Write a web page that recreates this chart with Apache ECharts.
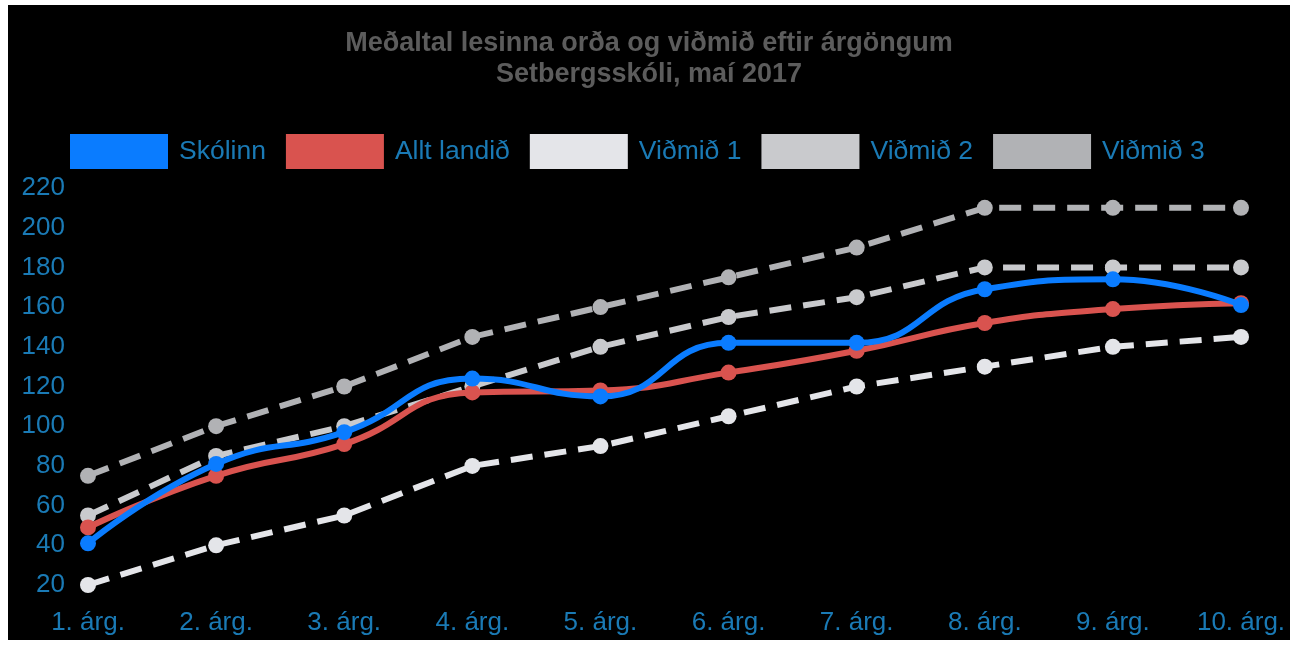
<!DOCTYPE html>
<html>
<head>
<meta charset="utf-8">
<script src="https://cdn.jsdelivr.net/npm/echarts@6/dist/echarts.min.js"></script>
<style>
  html, body { margin: 0; padding: 0; background: #ffffff; width: 1294px; height: 645px; overflow: hidden; }
  #chart { position: absolute; left: 8px; top: 5px; width: 1282px; height: 635px; background: #000000; }
</style>
</head>
<body>
<div id="chart"></div>
<script>
const categories = ['1. árg.', '2. árg.', '3. árg.', '4. árg.', '5. árg.', '6. árg.', '7. árg.', '8. árg.', '9. árg.', '10. árg.'];
const skolinn = [41, 81, 97, 124, 115, 142, 142, 169, 174, 161];
const alltLandid = [49, 75, 91, 117, 118, 127, 138, 152, 159, 162];
const vidmid1 = [20, 40, 55, 80, 90, 105, 120, 130, 140, 145];
const vidmid2 = [55, 85, 100, 120, 140, 155, 165, 180, 180, 180];
const vidmid3 = [75, 100, 120, 145, 160, 175, 190, 210, 210, 210];
const seriesNames = ['Skólinn', 'Allt landið', 'Viðmið 1', 'Viðmið 2', 'Viðmið 3'];
const titleLines = ['Meðaltal lesinna orða og viðmið eftir árgöngum', 'Setbergsskóli, maí 2017'];
const yTicks = { min: 20, max: 220, step: 20 };

const labelColor = '#1a7ab5';
const font = '"Liberation Sans", Arial, sans-serif';

const chart = echarts.init(document.getElementById('chart'));

function solid(name, data, color, z) {
  return {
    name: name, type: 'line', data: data, smooth: 0.5, z: z,
    symbol: 'circle', symbolSize: 16,
    lineStyle: { color: color, width: 6 },
    itemStyle: { color: color }
  };
}
function dashed(name, data, color, z) {
  return {
    name: name, type: 'line', data: data, smooth: false, z: z,
    symbol: 'circle', symbolSize: 16,
    lineStyle: { color: color, width: 6, type: [22, 12] },
    itemStyle: { color: color }
  };
}

const titleStyle = { color: '#5c5c5c', fontSize: 27, fontWeight: 'bold', fontFamily: font };

chart.setOption({
  backgroundColor: '#000000',
  animation: false,
  title: [
    { text: titleLines[0], left: 'center', top: 20, textStyle: titleStyle },
    { text: titleLines[1], left: 'center', top: 51, textStyle: titleStyle }
  ],
  legend: {
    data: seriesNames,
    left: 57,
    top: 124,
    icon: 'rect',
    itemWidth: 98,
    itemHeight: 35,
    itemGap: 20,
    textStyle: { color: labelColor, fontSize: 26.5, fontFamily: font, padding: [0, 0, 0, 6] }
  },
  grid: { left: 80, right: 49, top: 183, bottom: 55, containLabel: false },
  xAxis: {
    type: 'category',
    data: categories,
    boundaryGap: false,
    axisLine: { show: false },
    axisTick: { show: false },
    splitLine: { show: false },
    axisLabel: { color: labelColor, fontSize: 26, fontFamily: font, margin: 25 }
  },
  yAxis: {
    type: 'value',
    min: yTicks.min,
    max: yTicks.max,
    interval: yTicks.step,
    axisLine: { show: false },
    axisTick: { show: false },
    splitLine: { show: false },
    axisLabel: { color: labelColor, fontSize: 26, fontFamily: font, margin: 23 }
  },
  series: [
    dashed(seriesNames[2], vidmid1, '#e4e5e9', 2),
    dashed(seriesNames[3], vidmid2, '#c9cacd', 2),
    dashed(seriesNames[4], vidmid3, '#b1b2b5', 2),
    solid(seriesNames[1], alltLandid, '#d9534f', 3),
    solid(seriesNames[0], skolinn, '#0a7cff', 4)
  ]
});
</script>
</body>
</html>
